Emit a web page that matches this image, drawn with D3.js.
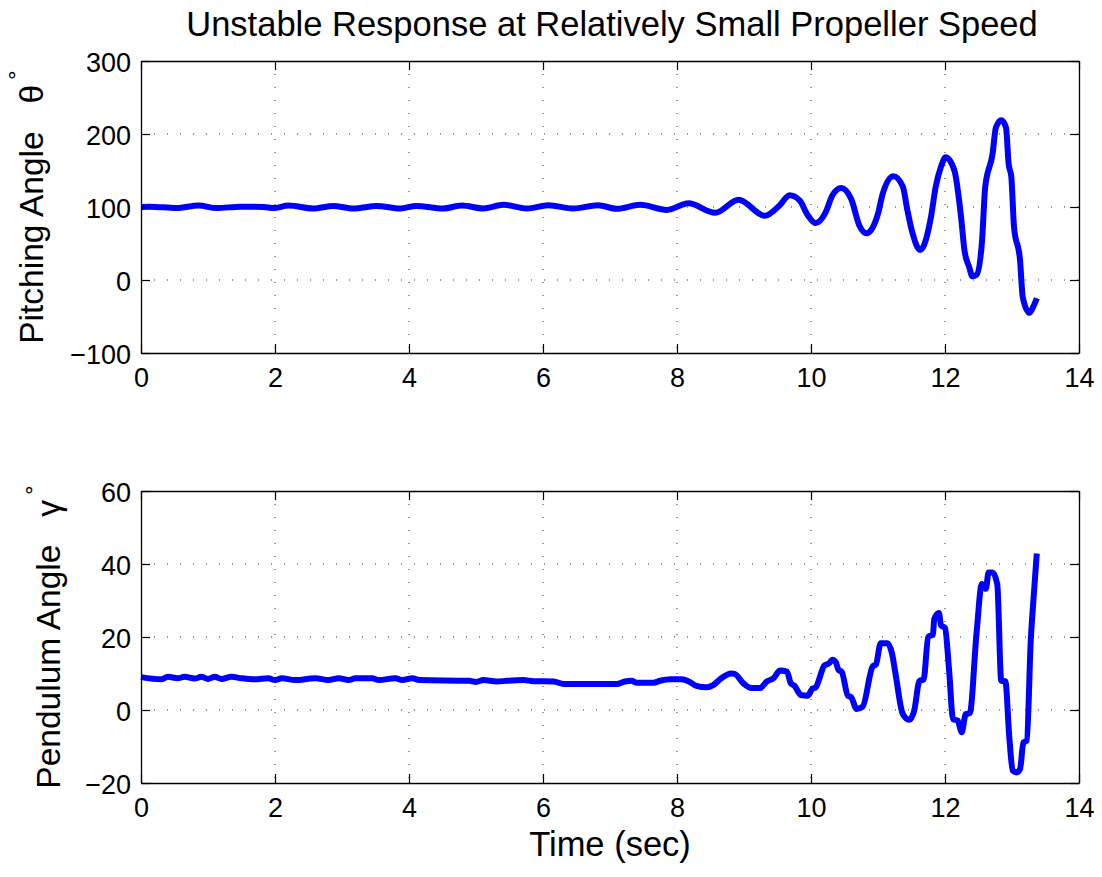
<!DOCTYPE html>
<html>
<head>
<meta charset="utf-8">
<style>
  body { margin: 0; background: #fff; }
  svg { display: block; font-family: "Liberation Sans", Arial, Helvetica, sans-serif; }
</style>
</head>
<body>
<script src="https://cdn.jsdelivr.net/npm/d3@7/dist/d3.min.js"></script>
<div id="chart"></div>
<script>
// time ticks shared by both panels
var timeTicks = [0, 2, 4, 6, 8, 10, 12, 14];

// pitching angle (deg) vs time (sec)
var pitchTime = [0, 0.13, 0.53, 0.86, 1.13, 1.48, 1.83, 1.98, 2.2, 2.57, 2.87, 3.17, 3.52, 3.87, 4.11, 4.51, 4.79,
  5.11, 5.41, 5.76, 6.08, 6.45, 6.82, 7.1, 7.45, 7.85, 8.17, 8.57, 8.92, 9.31, 9.53, 9.68, 9.83, 9.95, 10.07,
  10.22, 10.32, 10.45, 10.6, 10.72, 10.83, 11.0, 11.07, 11.23, 11.37, 11.44, 11.51, 11.63, 11.79, 11.86, 11.94,
  12.01, 12.14, 12.24, 12.29, 12.36, 12.41, 12.47, 12.55, 12.6, 12.71, 12.76, 12.84, 12.91, 12.95, 12.99, 13.03,
  13.12, 13.16, 13.26, 13.32, 13.37];
var pitchAngle = [100, 100.5, 98.5, 102, 98.5, 100.5, 100, 98.5, 102, 98, 101.5, 98, 101.5, 98, 101.5, 98, 102,
  98, 103, 98, 102.5, 98, 102.5, 97.5, 103, 96, 105, 92, 110, 88, 102, 116, 109, 89, 78,
  93, 116, 126, 111, 75, 64, 91, 118, 142, 128, 95, 66, 41, 86, 127, 155,
  168, 150, 86, 41, 18, 5, 7, 50, 127, 173, 209, 219, 209, 159, 141, 73,
  27, -23, -45, -36, -25];
var pitchTicks = [-100, 0, 100, 200, 300];

// pendulum angle (deg) vs time (sec)
var pendTime = [0, 0.3, 0.4, 0.55, 0.65, 0.8, 0.9, 1.0, 1.1, 1.2, 1.35, 1.5, 1.7, 1.9, 2.0, 2.1, 2.3, 2.6, 2.8,
  2.95, 3.1, 3.2, 3.45, 3.55, 3.8, 3.9, 4.05, 4.15, 4.9, 5.0, 5.11, 5.31, 5.46, 5.71, 5.86, 6.16, 6.31, 7.1,
  7.22, 7.32, 7.4, 7.65, 7.75, 7.9, 8.07, 8.17, 8.29, 8.44, 8.54, 8.64, 8.81, 8.86, 8.99, 9.11, 9.24, 9.34,
  9.44, 9.54, 9.64, 9.7, 9.75, 9.85, 9.95, 10.02, 10.07, 10.2, 10.27, 10.32, 10.37, 10.41, 10.46, 10.55, 10.6,
  10.68, 10.77, 10.92, 10.97, 11.04, 11.14, 11.21, 11.26, 11.37, 11.47, 11.54, 11.62, 11.68, 11.75, 11.82,
  11.84, 11.91, 11.94, 12.0, 12.06, 12.12, 12.19, 12.25, 12.31, 12.37, 12.47, 12.55, 12.61, 12.65, 12.71,
  12.78, 12.84, 12.9, 12.96, 13.01, 13.07, 13.12, 13.17, 13.22, 13.28, 13.33, 13.37];
var pendAngle = [9.0, 8.4, 9.1, 8.7, 9.1, 8.6, 9.1, 8.5, 9.1, 8.5, 9.1, 8.7, 8.4, 8.7, 8.2, 8.7, 8.2, 8.7, 8.2,
  8.7, 8.2, 8.7, 8.7, 8.2, 8.7, 8.2, 8.7, 8.2, 8.0, 7.7, 8.2, 7.8, 8.0, 8.2, 7.9, 7.8, 7.1, 7.1,
  7.8, 8.0, 7.5, 7.5, 8.0, 8.4, 8.4, 7.9, 6.6, 6.2, 6.8, 8.4, 10.0, 9.9, 7.3, 6.0, 6.0, 7.8,
  8.7, 10.8, 10.5, 7.3, 6.7, 4.1, 3.9, 5.8, 6.2, 12.2, 12.8, 13.8, 13.1, 11, 10.4, 3.9, 3.5,
  0.3, 0.9, 11.9, 12.5, 18.3, 18.3, 15.4, 10.1, -1.1, -2.7, -0.2, 8, 8.3, 20, 20.7,
  25, 26.6, 23.2, 22.5, 11.2, -2.5, -2.9, -6.1, -1.1, -0.9, 20.8, 34.5, 33.2, 37.7, 37.7,
  34.5, 8, 7.9, -7.5, -16.6, -17.1, -16.2, -8.9, -8.4, 19, 32.7, 42.9];
var pendTicks = [-20, 0, 20, 40, 60];

var width = 1102, height = 877;
var left = 141, right = 1079;

var svg = d3.select("#chart").append("svg")
  .attr("width", width)
  .attr("height", height);

var x = d3.scaleLinear().domain([0, 14]).range([left, right]);

function drawPanel(top, bottom, yTicks, times, values, labelMain, labelSym, labelX) {
  var y = d3.scaleLinear().domain([yTicks[0], yTicks[yTicks.length - 1]]).range([bottom, top]);
  var g = svg.append("g");

  // dotted grid
  g.selectAll(".vgrid").data(timeTicks.slice(1, -1)).enter().append("line")
    .attr("x1", function (d) { return x(d); }).attr("x2", function (d) { return x(d); })
    .attr("y1", top).attr("y2", bottom)
    .style("stroke", "#333").style("stroke-width", 1).style("stroke-dasharray", "1,12");
  g.selectAll(".hgrid").data(yTicks.slice(1, -1)).enter().append("line")
    .attr("y1", function (d) { return y(d); }).attr("y2", function (d) { return y(d); })
    .attr("x1", left).attr("x2", right)
    .style("stroke", "#333").style("stroke-width", 1).style("stroke-dasharray", "1,12");

  // data line
  var pts = times.map(function (t, i) { return [t, values[i]]; });
  var line = d3.line()
    .x(function (d) { return x(d[0]); })
    .y(function (d) { return y(d[1]); })
    .curve(d3.curveMonotoneX);
  g.append("path").datum(pts)
    .attr("d", line)
    .style("fill", "none").style("stroke", "#0000ff")
    .style("stroke-width", 6).style("stroke-linejoin", "round").style("stroke-linecap", "butt");

  // axes (ticks inside, box on)
  var tl = 9;
  var xb = d3.axisBottom(x).tickValues(timeTicks).tickSizeInner(-tl).tickSizeOuter(0).tickFormat(d3.format("d"));
  var xt = d3.axisTop(x).tickValues(timeTicks).tickSizeInner(-tl).tickSizeOuter(0).tickFormat("");
  var yl = d3.axisLeft(y).tickValues(yTicks).tickSizeInner(-tl).tickSizeOuter(0)
    .tickFormat(function (d) { return d < 0 ? "\u2212" + Math.abs(d) : d; });
  var yr = d3.axisRight(y).tickValues(yTicks).tickSizeInner(-tl).tickSizeOuter(0).tickFormat("");

  var gxb = g.append("g").attr("transform", "translate(0," + bottom + ")").call(xb);
  var gxt = g.append("g").attr("transform", "translate(0," + top + ")").call(xt);
  var gyl = g.append("g").attr("transform", "translate(" + left + ",0)").call(yl);
  var gyr = g.append("g").attr("transform", "translate(" + right + ",0)").call(yr);

  [gxb, gxt, gyl, gyr].forEach(function (a) {
    a.select(".domain").style("stroke", "#000").style("stroke-width", 1.3);
    a.selectAll(".tick line").style("stroke", "#000").style("stroke-width", 1.2);
    a.selectAll(".tick text").style("font-size", "27px").style("fill", "#000")
      .style("font-family", "'Liberation Sans', Arial, sans-serif");
  });
  gxb.selectAll(".tick text").attr("y", 15).attr("dy", "0.71em");
  gyl.selectAll(".tick text").attr("x", -10).attr("dy", "0.40em");

  // y label: text + symbol with degree superscript
  var lab = g.append("text")
    .attr("transform", "translate(" + labelX + "," + ((top + bottom) / 2) + ") rotate(-90)")
    .attr("text-anchor", "middle")
    .style("font-size", "33.5px").style("fill", "#000");
  lab.append("tspan").text(labelMain + "\u00a0\u00a0\u00a0" + labelSym);
  lab.append("tspan").attr("dy", -18).attr("dx", 5).style("font-size", "24px").text("\u00b0");
}

drawPanel(61, 353, pitchTicks, pitchTime, pitchAngle, "Pitching Angle", "\u03b8", 43);
drawPanel(491, 783, pendTicks, pendTime, pendAngle, "Pendulum Angle", "\u03b3", 60);

svg.append("text")
  .attr("x", (left + right) / 2 + 2).attr("y", 36)
  .attr("text-anchor", "middle")
  .style("font-size", "34.5px").style("fill", "#000")
  .text("Unstable Response at Relatively Small Propeller Speed");

svg.append("text")
  .attr("x", (left + right) / 2).attr("y", 856)
  .attr("text-anchor", "middle")
  .style("font-size", "34.5px").style("fill", "#000")
  .text("Time (sec)");
</script>
</body>
</html>
